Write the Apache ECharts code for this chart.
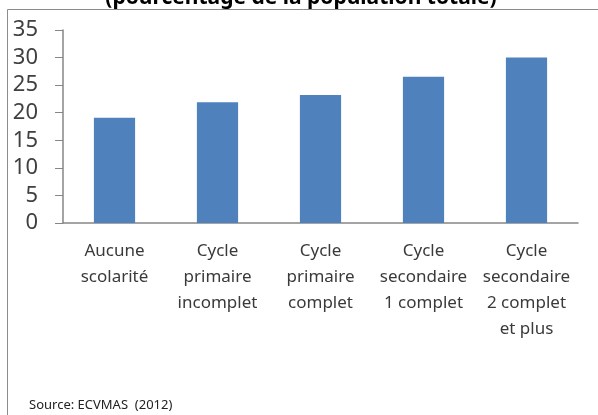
<!DOCTYPE html>
<html>
<head>
<meta charset="utf-8">
<script src="https://cdn.jsdelivr.net/npm/echarts@6/dist/echarts.min.js"></script>
<style>
  html,body{margin:0;padding:0;background:#fff;}
  #chart{width:598px;height:415px;}
</style>
</head>
<body>
<div id="chart"></div>
<script>
// niveau d'instruction
var categories = ['Aucune\nscolarité', 'Cycle\nprimaire\nincomplet', 'Cycle\nprimaire\ncomplet', 'Cycle\nsecondaire\n1 complet', 'Cycle\nsecondaire\n2 complet\net plus'];
var values = [19.1, 21.9, 23.2, 26.5, 30.0];
var yTicks = [0, 5, 10, 15, 20, 25, 30, 35];

var chart = echarts.init(document.getElementById('chart'));
chart.setOption({
  animation: false,
  graphic: [
    {
      type: 'text', silent: true,
      style: {
        text: '(pourcentage de la population totale)',
        x: 301, y: -12, align: 'center', verticalAlign: 'top',
        font: 'bold 21px "Noto Sans"', fill: '#000'
      }
    },
    {
      type: 'rect', silent: true,
      shape: {x: 7.5, y: 9.5, width: 640, height: 450},
      style: {fill: 'none', stroke: '#8c8c8c', lineWidth: 1}
    },
    {
      type: 'text', silent: true,
      style: {
        text: 'Source: ECVMAS  (2012)',
        x: 29, y: 405, verticalAlign: 'middle',
        font: '13px "Noto Sans"', fill: '#222'
      }
    }
  ],
  grid: {left: 63, right: 20, top: 30, bottom: 192},
  xAxis: {
    type: 'category',
    data: categories,
    axisLine: {lineStyle: {color: '#868686', width: 1.5}},
    axisTick: {show: false},
    axisLabel: {
      interval: 0, margin: 15, color: '#3a3a3a',
      fontFamily: 'Noto Sans', fontSize: 17, lineHeight: 26
    }
  },
  yAxis: {
    type: 'value',
    min: yTicks[0], max: yTicks[yTicks.length - 1], interval: 5,
    axisLine: {show: true, lineStyle: {color: '#868686', width: 1.5}},
    axisTick: {show: true, inside: false, length: 8, lineStyle: {color: '#868686'}},
    splitLine: {show: false},
    axisLabel: {margin: 25, color: '#404040', fontFamily: 'Noto Sans', fontSize: 22}
  },
  series: [{
    type: 'bar',
    data: values,
    barWidth: '40%',
    itemStyle: {color: '#4F81BD'}
  }]
});
</script>
</body>
</html>
